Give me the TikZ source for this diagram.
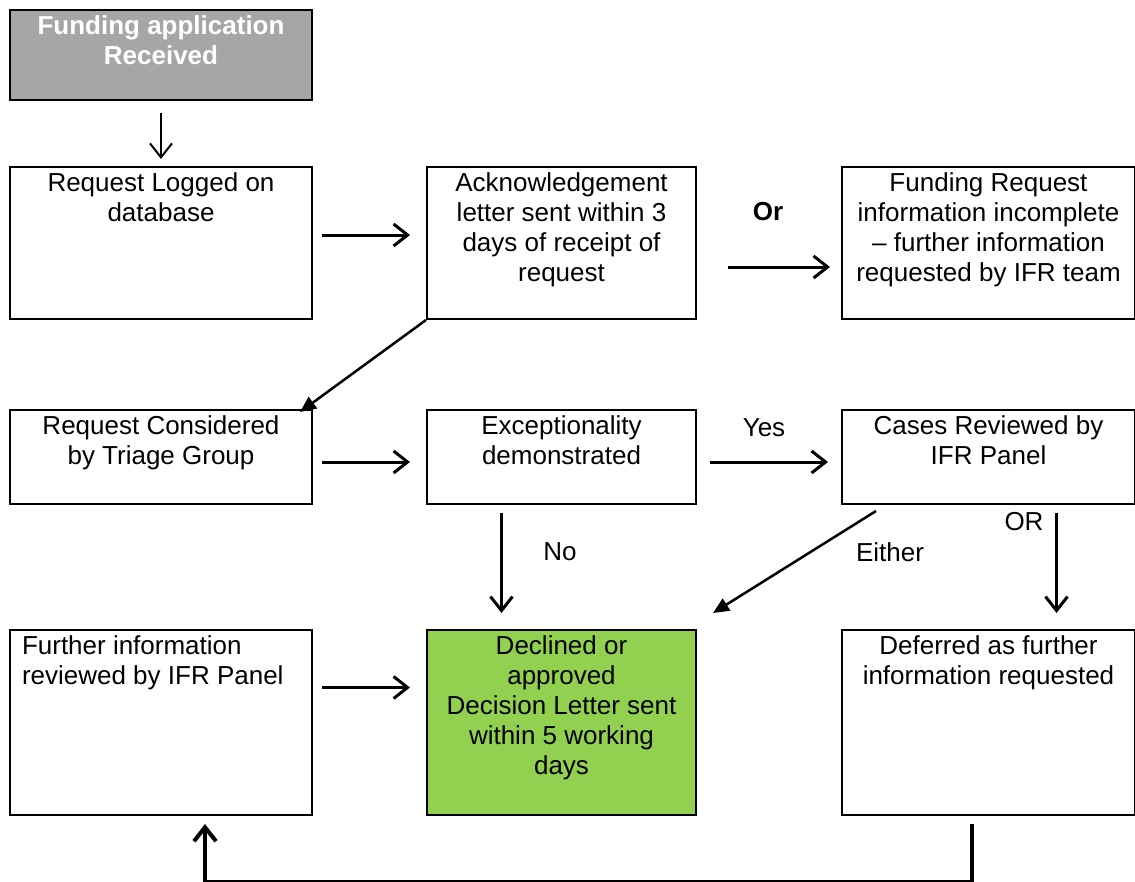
\documentclass[tikz,border=0pt]{standalone}
\usepackage{fontspec}
\setmainfont{Liberation Sans}
\usetikzlibrary{arrows.meta}

\definecolor{startgray}{HTML}{A6A6A6}
\definecolor{donegreen}{HTML}{92D050}
\newcommand{\flowtext}[4][\centering]{\parbox[t][#3][t]{#2}{#1 #4}}

\begin{document}
\begin{tikzpicture}[x=1pt,y=-1pt,
  box/.style={draw, line width=2pt, inner xsep=2pt, inner ysep=6pt, anchor=north west, font=\fontsize{26}{30}\selectfont},
  lbl/.style={inner sep=0pt, font=\fontsize{26}{30}\selectfont},
  barb/.style={-{Straight Barb[length=14pt,width=22pt]}},
  thin arrow/.style={line width=2pt, barb},
  thick arrow/.style={line width=3pt, barb},
  diag arrow/.style={line width=2.5pt, -{Triangle[length=16pt,width=14pt]}}]
\useasboundingbox (0,0) rectangle (1135,881);
\node[box, fill=startgray, text=white, font=\fontsize{26}{30}\selectfont\bfseries] (recv) at (9,9) {\flowtext{298pt}{78pt}{Funding application\\Received}};
\node[box] (logged) at (9,166) {\flowtext{298pt}{140pt}{Request Logged on\\database}};
\node[box] (ack) at (426,166) {\flowtext{265pt}{140pt}{Acknowledgement\\letter sent within 3\\days of receipt of\\request}};
\node[box] (info) at (841,166) {\flowtext{289pt}{140pt}{Funding Request\\information incomplete\\– further information\\requested by IFR team}};
\node[box] (triage) at (9,409) {\flowtext{298pt}{82pt}{Request Considered\\by Triage Group}};
\node[box] (except) at (426,409) {\flowtext{265pt}{82pt}{Exceptionality\\demonstrated}};
\node[box] (panel) at (841,409) {\flowtext{289pt}{82pt}{Cases Reviewed by\\IFR Panel}};
\node[box, inner xsep=12pt] (further) at (9,629) {\flowtext[\raggedright]{278pt}{173pt}{Further information\\reviewed by IFR Panel}};
\node[box, fill=donegreen] (decision) at (426,629) {\flowtext{265pt}{173pt}{Declined or\\approved\\Decision Letter sent\\within 5 working\\days}};
\node[box] (deferred) at (841,629) {\flowtext{289pt}{173pt}{Deferred as further\\information requested}};
\node[lbl, font=\fontsize{26}{30}\selectfont\bfseries] (or) at (768,212) {Or};
\node[lbl] (yes) at (764,428) {Yes};
\node[lbl] (no) at (560,552) {No};
\node[lbl] (either) at (890,552) {Either};
\node[lbl] (orpanel) at (1024,522) {OR};
\draw[thin arrow, shorten <=12pt, shorten >=7pt] (recv) -- (logged);
\draw[thick arrow] ([shift={(9,-8)}]logged.east) -- ([shift={(-16,-8)}]ack.west);
\draw[thick arrow] ([shift={(31,24)}]ack.east) -- ([shift={(-11,24)}]info.west);
\draw[diag arrow] (ack.south west) -- ([shift={(-13,3)}]triage.north east);
\draw[thick arrow] ([shift={(9,5)}]triage.east) -- ([shift={(-16,5)}]except.west);
\draw[thick arrow] ([shift={(13,5)}]except.east) -- ([shift={(-13,5)}]panel.west);
\draw[thick arrow] ([shift={(-60,8)}]except.south) -- ([shift={(-60,-16)}]decision.north);
\draw[diag arrow] ([shift={(35,6)}]panel.south west) -- ([shift={(16,-16)}]decision.north east);
\draw[thick arrow] ([shift={(68,8)}]panel.south) -- ([shift={(68,-16)}]deferred.north);
\draw[thick arrow] ([shift={(9,-35)}]further.east) -- ([shift={(-16,-35)}]decision.west);
\draw[line width=4pt, barb] ([shift={(-17,8)}]deferred.south) -- ++(0,58) -| ([shift={(44,8)}]further.south);
\end{tikzpicture}
\end{document}
